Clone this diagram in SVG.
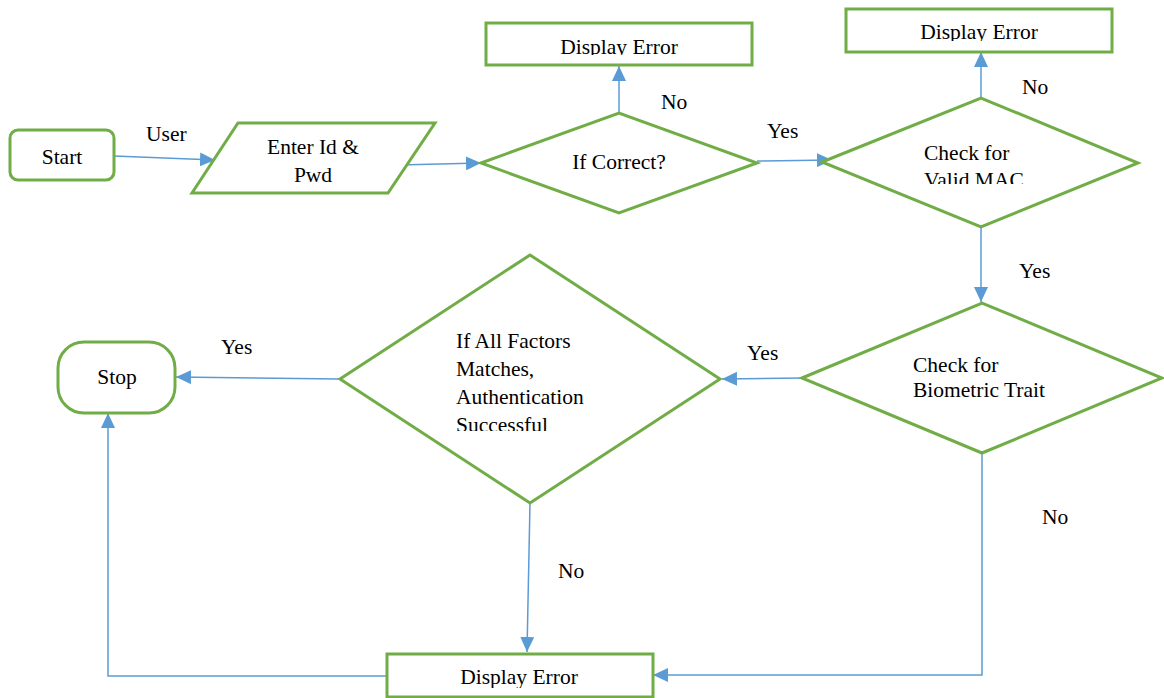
<svg xmlns="http://www.w3.org/2000/svg" width="1164" height="698" viewBox="0 0 1164 698">
  <style>
    .shape { fill: #ffffff; stroke: #70AD47; stroke-width: 3; stroke-linejoin: miter; }
    .conn { fill: none; stroke: #5B9BD5; stroke-width: 1.5; marker-end: url(#arrow); }
    text { font-family: "Liberation Serif", "Times New Roman", serif; font-size: 21.5px; fill: #000000; }
    .mid { text-anchor: middle; }
  </style>
  <defs>
    <marker id="arrow" markerUnits="userSpaceOnUse" markerWidth="16" markerHeight="14" refX="15" refY="7" orient="auto">
      <path d="M0,0 L15,7 L0,14 Z" fill="#5B9BD5"/>
    </marker>
    <!-- text areas that crop the lower part of some labels -->
    <clipPath id="clipErr1"><rect x="486" y="23" width="266" height="32"/></clipPath>
    <clipPath id="clipErr2"><rect x="846" y="9" width="266" height="32"/></clipPath>
    <clipPath id="clipErr3"><rect x="387" y="654" width="266" height="34"/></clipPath>
    <clipPath id="clipMac"><rect x="880" y="130" width="200" height="54"/></clipPath>
    <clipPath id="clipAll"><rect x="420" y="320" width="200" height="111"/></clipPath>
  </defs>

  <!-- connectors -->
  <g id="connectors">
    <line class="conn" x1="114" y1="156" x2="215" y2="160"/>
    <line class="conn" x1="398" y1="165" x2="481" y2="163"/>
    <line class="conn" x1="619" y1="113" x2="619" y2="66"/>
    <line class="conn" x1="757" y1="161" x2="832" y2="160"/>
    <line class="conn" x1="981" y1="98" x2="981" y2="52"/>
    <line class="conn" x1="981" y1="227" x2="981" y2="302"/>
    <line class="conn" x1="802" y1="378" x2="722" y2="379"/>
    <line class="conn" x1="340" y1="379" x2="176" y2="377"/>
    <line class="conn" x1="530" y1="503" x2="527" y2="652"/>
    <polyline class="conn" points="982,453 982,675 653,675"/>
    <polyline class="conn" points="387,676 108,676 108,413"/>
  </g>

  <!-- connector labels -->
  <g id="labels">
    <text x="146" y="141">User</text>
    <text x="661" y="109">No</text>
    <text x="767" y="138">Yes</text>
    <text x="1022" y="94">No</text>
    <text x="1019" y="278">Yes</text>
    <text x="747" y="360">Yes</text>
    <text x="221" y="354">Yes</text>
    <text x="558" y="578">No</text>
    <text x="1042" y="524">No</text>
  </g>

  <g id="start">
    <rect class="shape" x="10" y="130" width="104" height="50" rx="8"/>
    <text class="mid" x="62" y="164">Start</text>
  </g>

  <g id="enter-credentials">
    <polygon class="shape" points="238,123 435,123 388,193 192,193"/>
    <text class="mid" x="313" y="154">Enter Id &amp;</text>
    <text class="mid" x="313" y="182">Pwd</text>
  </g>

  <g id="if-correct">
    <polygon class="shape" points="481,163 619,113 757,163 619,213"/>
    <text class="mid" x="619" y="169">If Correct?</text>
  </g>

  <g id="error-credentials">
    <rect class="shape" x="486" y="23" width="266" height="42"/>
    <text class="mid" x="619" y="54" clip-path="url(#clipErr1)">Display Error</text>
  </g>

  <g id="check-mac">
    <polygon class="shape" points="822,162 981,98 1138,163 981,227"/>
    <g clip-path="url(#clipMac)">
      <text x="924" y="160">Check for</text>
      <text x="924" y="187">Valid MAC</text>
    </g>
  </g>

  <g id="error-mac">
    <rect class="shape" x="846" y="9" width="266" height="43"/>
    <text class="mid" x="979" y="39" clip-path="url(#clipErr2)">Display Error</text>
  </g>

  <g id="check-biometric">
    <polygon class="shape" points="802,378 982,303 1162,378 982,453"/>
    <text x="913" y="372">Check for</text>
    <text x="913" y="397">Biometric Trait</text>
  </g>

  <g id="all-factors">
    <polygon class="shape" points="340,379 530,255 720,379 530,503"/>
    <g clip-path="url(#clipAll)">
      <text x="456" y="348">If All Factors</text>
      <text x="456" y="376">Matches,</text>
      <text x="456" y="404">Authentication</text>
      <text x="456" y="432">Successful</text>
    </g>
  </g>

  <g id="stop">
    <rect class="shape" x="58" y="342" width="117" height="71" rx="26"/>
    <text class="mid" x="117" y="384">Stop</text>
  </g>

  <g id="error-final">
    <rect class="shape" x="387" y="654" width="266" height="43"/>
    <text class="mid" x="519" y="684" clip-path="url(#clipErr3)">Display Error</text>
  </g>
</svg>
